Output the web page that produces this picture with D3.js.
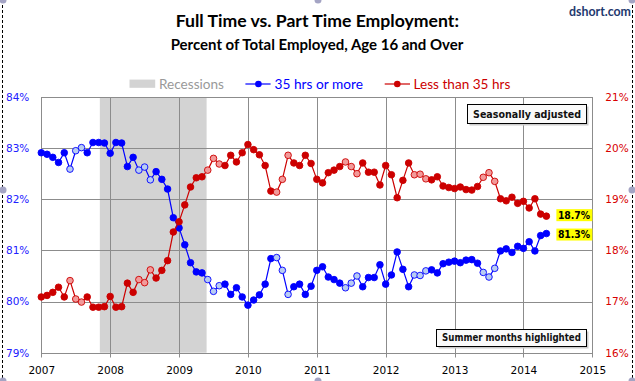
<!DOCTYPE html>
<html><head><meta charset="utf-8">
<script src="https://cdn.jsdelivr.net/npm/d3@7"></script>
<style>html,body{margin:0;padding:0;background:#fff;} svg{display:block}</style>
</head><body>
<svg id="c" width="635" height="381"></svg>
<script>
// ---- data (monthly, Jan 2007 - May 2014) ----
const startYear = 2007;
const fullTime = [
  82.91, 82.88, 82.82, 82.72, 82.91, 82.59, 82.95, 83.01, 82.91, 83.11, 83.11, 83.10,
  82.90, 83.11, 83.10, 82.64, 82.82, 82.57, 82.63, 82.38, 82.54, 82.39, 82.20, 81.64,
  81.44, 81.11, 80.76, 80.58, 80.56, 80.43, 80.20, 80.31, 80.34, 80.14, 80.27, 80.09,
  79.93, 80.03, 80.13, 80.34, 80.84, 80.86, 80.61, 80.14, 80.29, 80.34, 80.14, 80.30,
  80.61, 80.68, 80.48, 80.43, 80.36, 80.27, 80.36, 80.50, 80.29, 80.47, 80.47, 80.72,
  80.34, 80.52, 80.97, 80.63, 80.29, 80.52, 80.51, 80.60, 80.62, 80.56, 80.74, 80.77,
  80.79, 80.76, 80.81, 80.82, 80.75, 80.57, 80.48, 80.65, 80.99, 81.03, 80.96, 81.08,
  81.04, 81.17, 80.99, 81.29, 81.33
];
const partTime = [
  17.09, 17.12, 17.18, 17.28, 17.09, 17.41, 17.05, 16.99, 17.09, 16.89, 16.89, 16.90,
  17.10, 16.89, 16.90, 17.36, 17.18, 17.43, 17.37, 17.62, 17.46, 17.61, 17.80, 18.36,
  18.56, 18.89, 19.24, 19.42, 19.44, 19.57, 19.80, 19.69, 19.66, 19.86, 19.73, 19.91,
  20.07, 19.97, 19.87, 19.66, 19.16, 19.14, 19.39, 19.86, 19.71, 19.66, 19.86, 19.70,
  19.39, 19.32, 19.52, 19.57, 19.64, 19.73, 19.64, 19.50, 19.71, 19.53, 19.53, 19.28,
  19.66, 19.48, 19.03, 19.37, 19.71, 19.48, 19.49, 19.40, 19.38, 19.44, 19.26, 19.23,
  19.21, 19.24, 19.19, 19.18, 19.25, 19.43, 19.52, 19.35, 19.01, 18.97, 19.04, 18.92,
  18.96, 18.83, 19.01, 18.71, 18.67
];
const summerMonths = [6, 7, 8];
const recession = [2007.85, 2009.40];
const xTicks = [2007, 2008, 2009, 2010, 2011, 2012, 2013, 2014, 2015];
const leftTicks = [79, 80, 81, 82, 83, 84];
const rightTicks = [16, 17, 18, 19, 20, 21];
const titleText = "Full Time vs. Part Time Employment:";
const subtitleText = "Percent of Total Employed, Age 16 and Over";
const sourceText = "dshort.com";
const legendLabels = ["Recessions", "35 hrs or more", "Less than 35 hrs"];
const noteTop = "Seasonally adjusted";
const noteBottom = "Summer months highlighted";

// ---- layout ----
const svg = d3.select("#c");
const L = 41.3, R = 592.3, T = 97, B = 352.7;
const BLUE = "#0000FF", RED = "#CC0000";
const BLUE_LIGHT = "#B8CCF2", RED_LIGHT = "#F29A9A";
const GRID = "#8C8C8C";
const sans = "Lato, 'Open Sans', sans-serif";
const axf = "'DejaVu Sans', Verdana, sans-serif";
const condf = "'DejaVu Sans Condensed', 'DejaVu Sans', sans-serif";

const x = d3.scaleLinear().domain([xTicks[0], xTicks[xTicks.length-1]]).range([L, R]);
const yL = d3.scaleLinear().domain([leftTicks[0], leftTicks[leftTicks.length-1]]).range([B, T]);
const yR = d3.scaleLinear().domain([rightTicks[0], rightTicks[rightTicks.length-1]]).range([B, T]);

const rows = fullTime.map((v, i) => ({
  t: startYear + i / 12,
  month: (i % 12) + 1,
  ft: v,
  pt: partTime[i]
}));

function fit(sel, w) {
  const n = sel.node().getComputedTextLength();
  const fs = parseFloat(sel.attr("font-size"));
  sel.attr("font-size", (fs * w / n).toFixed(2));
  return sel;
}
const cr = v => Math.round(v) + 0.5;

// outer dashed frame
svg.append("line").attr("x1", 2.5).attr("x2", 2.5).attr("y1", 0).attr("y2", 381)
  .attr("stroke", "#000").attr("stroke-dasharray", "3,2");
svg.append("line").attr("x1", 632.5).attr("x2", 632.5).attr("y1", 0).attr("y2", 381)
  .attr("stroke", "#000").attr("stroke-dasharray", "3,2");

// recession band
svg.append("rect").attr("x", x(recession[0])).attr("y", T)
  .attr("width", x(recession[1]) - x(recession[0])).attr("height", B - T)
  .attr("fill", "#D3D3D3");

// gridlines
const g = svg.append("g");
g.selectAll("line.h").data(leftTicks).join("line")
  .attr("x1", L).attr("x2", R).attr("y1", d => cr(yL(d))).attr("y2", d => cr(yL(d)))
  .attr("stroke", GRID).attr("stroke-width", 1);
g.selectAll("line.v").data(xTicks).join("line")
  .attr("x1", d => cr(x(d))).attr("x2", d => cr(x(d))).attr("y1", T).attr("y2", cr(B) + 4)
  .attr("stroke", GRID).attr("stroke-width", 1);

// axes labels
const axL = d3.axisLeft(yL).tickValues(leftTicks).tickFormat(d => d + "%").tickSize(0).tickPadding(12);
const gl = svg.append("g").attr("transform", `translate(${L},0)`).call(axL);
gl.select(".domain").remove();
gl.selectAll("text").attr("fill", "#2020FF").attr("font-family", axf).attr("font-size", 10.5);

const axR = d3.axisRight(yR).tickValues(rightTicks).tickFormat(d => d + "%").tickSize(0).tickPadding(13);
const gr = svg.append("g").attr("transform", `translate(${R},0)`).call(axR);
gr.select(".domain").remove();
gr.selectAll("text").attr("fill", "#D80000").attr("font-family", axf).attr("font-size", 10.5);

const axB = d3.axisBottom(x).tickValues(xTicks).tickFormat(d3.format("d")).tickSize(0).tickPadding(14);
const gb = svg.append("g").attr("transform", `translate(0,${B})`).call(axB);
gb.select(".domain").remove();
gb.selectAll("text").attr("fill", "#000").attr("font-family", axf).attr("font-size", 10.5);

// series
function series(key, yScale, color, light) {
  const line = d3.line().x(d => x(d.t)).y(d => yScale(d[key]));
  svg.append("path").datum(rows).attr("d", line)
    .attr("fill", "none").attr("stroke", color).attr("stroke-width", 1.2);
  svg.append("g").selectAll("circle").data(rows).join("circle")
    .attr("cx", d => x(d.t)).attr("cy", d => yScale(d[key])).attr("r", 3.3)
    .attr("fill", d => summerMonths.includes(d.month) ? light : color)
    .attr("stroke", color).attr("stroke-width", 0.9);
}
series("ft", yL, BLUE, BLUE_LIGHT);
series("pt", yR, RED, RED_LIGHT);

// end labels
const last = rows[rows.length - 1];
function endLabel(val, yy) {
  const gg = svg.append("g");
  const t = gg.append("text").attr("x", x(last.t) + 11.5).attr("y", yy)
    .attr("dy", "0.36em").attr("font-family", condf).attr("font-weight", "bold")
    .attr("font-size", 12).attr("fill", "#000").text(val.toFixed(1) + "%");
  fit(t, 32.3);
  const bb = t.node().getBBox();
  gg.insert("rect", "text").attr("x", bb.x - 1.5).attr("y", yy - 6).attr("width", bb.width + 3)
    .attr("height", 12).attr("fill", "#FFFF00");
}
endLabel(last.pt, yR(last.pt) - 1);
endLabel(last.ft, yL(last.ft) + 1);

// note boxes
function note(text, x0, y0, x1, y1, w) {
  const gg = svg.append("g");
  gg.append("rect").attr("x", x0 + 2.5).attr("y", y0 + 2.5).attr("width", x1 - x0).attr("height", y1 - y0)
    .attr("fill", "#CCCCCC");
  gg.append("rect").attr("x", x0 + 0.5).attr("y", y0 + 0.5).attr("width", x1 - x0).attr("height", y1 - y0)
    .attr("fill", "#FAFAFA").attr("stroke", "#000").attr("stroke-width", 1);
  const t = gg.append("text").attr("x", (x0 + x1) / 2 + 0.5).attr("y", (y0 + y1) / 2 + 0.5)
    .attr("dy", "0.36em").attr("text-anchor", "middle").attr("font-family", condf)
    .attr("font-weight", "bold").attr("font-size", 11).attr("fill", "#111").text(text);
  fit(t, w);
}
note(noteTop, 467, 104, 586, 123, 108);
note(noteBottom, 436, 329, 586, 346, 139);

// titles
fit(svg.append("text").attr("x", 317.3).attr("y", 26.5).attr("text-anchor", "middle")
  .attr("font-family", sans).attr("font-weight", "bold").attr("font-size", 18)
  .attr("fill", "#000").text(titleText), 283.5);
fit(svg.append("text").attr("x", 317).attr("y", 49.5).attr("text-anchor", "middle")
  .attr("font-family", sans).attr("font-weight", "bold").attr("font-size", 14)
  .attr("fill", "#000").text(subtitleText), 292.7);
fit(svg.append("text").attr("x", 569).attr("y", 15.5)
  .attr("font-family", sans).attr("font-weight", "bold").attr("font-size", 12)
  .attr("fill", "#1F3A6E").text(sourceText), 62);

// legend
const lg = svg.append("g");
lg.append("rect").attr("x", 129.5).attr("y", 79.6).attr("width", 25.7).attr("height", 8.2).attr("fill", "#D3D3D3");
fit(lg.append("text").attr("x", 159).attr("y", 88.5).attr("font-family", sans).attr("font-size", 15)
  .attr("fill", "#999999").text(legendLabels[0]), 65);
lg.append("line").attr("x1", 245.4).attr("x2", 270.6).attr("y1", 84).attr("y2", 84).attr("stroke", BLUE).attr("stroke-width", 1.2);
lg.append("circle").attr("cx", 258.4).attr("cy", 84).attr("r", 3.3).attr("fill", BLUE);
fit(lg.append("text").attr("x", 274.6).attr("y", 88.5).attr("font-family", sans).attr("font-size", 15)
  .attr("fill", BLUE).text(legendLabels[1]), 88.4);
lg.append("line").attr("x1", 384.7).attr("x2", 410).attr("y1", 84).attr("y2", 84).attr("stroke", RED).attr("stroke-width", 1.2);
lg.append("circle").attr("cx", 397.3).attr("cy", 84).attr("r", 3.3).attr("fill", RED);
fit(lg.append("text").attr("x", 413.6).attr("y", 88.5).attr("font-family", sans).attr("font-size", 15)
  .attr("fill", RED).text(legendLabels[2]), 96.7);

// selection handles
const handles = [[3, 0], [318, 0], [632, 0], [3, 190], [632, 190], [3, 381], [318, 381], [632, 381]];
svg.append("g").selectAll("circle").data(handles).join("circle")
  .attr("cx", d => d[0]).attr("cy", d => d[1]).attr("r", 3.5).attr("fill", "#A4A4C4");
</script>
</body></html>
